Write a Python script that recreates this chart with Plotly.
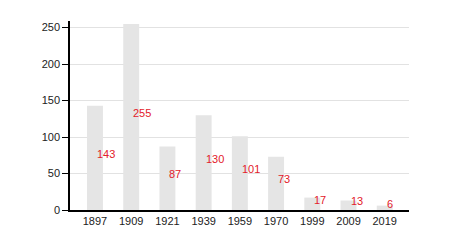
import plotly.graph_objects as go

years = ["1897", "1909", "1921", "1939", "1959", "1970", "1999", "2009", "2019"]
values = [143, 255, 87, 130, 101, 73, 17, 13, 6]
y_ticks = [0, 50, 100, 150, 200, 250]

fig = go.Figure()
fig.add_trace(go.Bar(
    x=list(range(len(years))), y=values, width=0.44,
    marker=dict(color="#e5e5e5", line=dict(width=0)),
    hoverinfo="skip",
))

for i, v in enumerate(values):
    fig.add_annotation(
        x=i, y=v / 2, text=str(v), showarrow=False,
        xanchor="left", yanchor="middle", yshift=4, xshift=0,
        font=dict(family="Liberation Sans, Arial, sans-serif", size=11, color="#e3202a"),
    )

fig.update_layout(
    width=450, height=250,
    margin=dict(l=70, r=41, t=21, b=40),
    paper_bgcolor="white", plot_bgcolor="white",
    showlegend=False,
    font=dict(family="Liberation Sans, Arial, sans-serif", size=11, color="#222"),
    bargap=0.5,
)
fig.update_xaxes(
    range=[-0.69, 8.67], tickmode="array",
    tickvals=list(range(len(years))), ticktext=years,
    showline=True, linecolor="black", linewidth=1.5,
    showgrid=False, ticks="", zeroline=False, fixedrange=True,
)
fig.update_yaxes(
    range=[0, 259], tickmode="array", tickvals=y_ticks,
    showline=True, linecolor="black", linewidth=1.5,
    ticks="outside", ticklen=6, tickcolor="black", tickwidth=1,
    showgrid=True, gridcolor="#e2e2e2", gridwidth=1,
    zeroline=False, fixedrange=True,
)

fig.write_html("out.html", config={"displayModeBar": False})
